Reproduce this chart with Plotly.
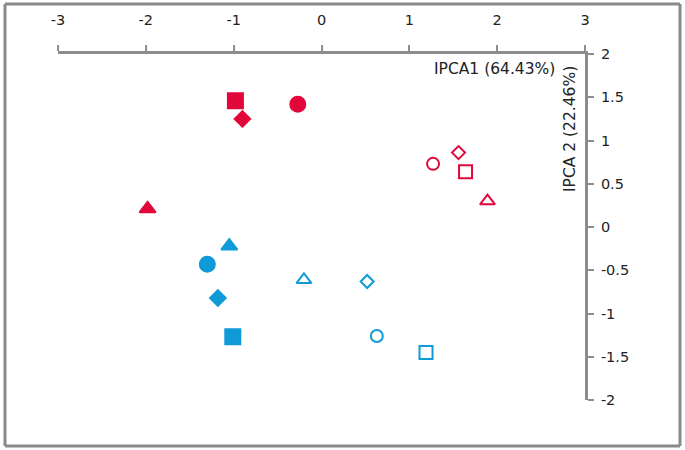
import plotly.graph_objects as go

# data
red_filled_x = [-0.98, -0.27, -0.90, -1.98]
red_filled_y = [1.46, 1.42, 1.25, 0.21]
red_open_x = [1.64, 1.27, 1.56, 1.89]
red_open_y = [0.64, 0.73, 0.86, 0.30]
blue_filled_x = [-1.01, -1.30, -1.18, -1.05]
blue_filled_y = [-1.27, -0.43, -0.82, -0.22]
blue_open_x = [1.19, 0.63, 0.52, -0.20]
blue_open_y = [-1.45, -1.26, -0.63, -0.61]

filled_symbols = ["square", "circle", "diamond", "triangle-up"]
filled_sizes = [15, 15, 12, 14]
open_symbols = ["square-open", "circle-open", "diamond-open", "triangle-up-open"]
open_sizes = [13, 12, 10, 13]

x_ticks = [-3, -2, -1, 0, 1, 2, 3]
x_ticktext = ["-3", "-2", "-1", "0", "1", "2", "3"]
y_ticks = [-2, -1.5, -1, -0.5, 0, 0.5, 1, 1.5, 2]
y_ticktext = ["-2", "-1.5", "-1", "-0.5", "0", "0.5", "1", "1.5", "2"]

RED = "#E2073B"
BLUE = "#0F9AD8"

fig = go.Figure()

def add(xs, ys, color, symbols, sizes):
    fig.add_trace(go.Scatter(
        x=xs, y=ys, mode="markers",
        marker=dict(symbol=symbols, size=sizes, color=color, opacity=1,
                    line=dict(width=2, color=color)),
        showlegend=False, hoverinfo="x+y"))

add(red_filled_x, red_filled_y, RED, filled_symbols, filled_sizes)
add(red_open_x, red_open_y, RED, open_symbols, open_sizes)
add(blue_filled_x, blue_filled_y, BLUE, filled_symbols, filled_sizes)
add(blue_open_x, blue_open_y, BLUE, open_symbols, open_sizes)

W, H = 685, 450
L, R, T, B = 58, 100, 54, 50
pw, ph = W - L - R, H - T - B

def px_to_paper_x(px):
    return (px - L) / pw

def px_to_paper_y(py):
    return (H - B - py) / ph

AXIS = "#8c8c8c"
BORDER = "#8a8a8a"
TICKFONT = dict(family="DejaVu Sans, sans-serif", size=14.5, color="#222222")
TITLEFONT = dict(family="DejaVu Sans, sans-serif", size=15.5, color="#222222")

bx0, bx1 = px_to_paper_x(5), px_to_paper_x(680)
by0, by1 = px_to_paper_y(446), px_to_paper_y(4)

fig.update_layout(
    template="none",
    width=W, height=H,
    margin=dict(l=L, r=R, t=T, b=B, autoexpand=False),
    paper_bgcolor="white", plot_bgcolor="white",
    font=TICKFONT,
    xaxis=dict(range=[-3, 3], side="top", tickvals=x_ticks, ticktext=x_ticktext,
               showgrid=False, zeroline=False, showline=True, automargin=False,
               linecolor=AXIS, linewidth=3, ticks="outside",
               ticklen=6, tickwidth=2, tickcolor=AXIS,
               ticklabelstandoff=14, tickfont=TICKFONT),
    yaxis=dict(range=[-2, 2], side="right", tickvals=y_ticks, ticktext=y_ticktext,
               showgrid=False, zeroline=False, showline=True, automargin=False,
               linecolor=AXIS, linewidth=3, ticks="outside",
               ticklen=6, tickwidth=2, tickcolor=AXIS,
               ticklabelstandoff=4, tickfont=TICKFONT),
    annotations=[
        dict(text="IPCA1 (64.43%)", xref="paper", yref="paper",
             x=px_to_paper_x(557), y=px_to_paper_y(69),
             xanchor="right", yanchor="middle", showarrow=False, font=TITLEFONT),
        dict(text="IPCA 2 (22.46%)", xref="paper", yref="paper",
             x=px_to_paper_x(570), y=px_to_paper_y(129),
             xanchor="center", yanchor="middle", textangle=-90,
             showarrow=False, font=TITLEFONT),
    ],
    shapes=[
        dict(type="line", xref="paper", yref="paper",
             x0=bx0, x1=bx1, y0=by1, y1=by1,
             line=dict(color=BORDER, width=3), layer="above"),
        dict(type="line", xref="paper", yref="paper",
             x0=bx0, x1=bx1, y0=by0, y1=by0,
             line=dict(color=BORDER, width=3), layer="above"),
        dict(type="line", xref="paper", yref="paper",
             x0=bx0, x1=bx0, y0=by0, y1=by1,
             line=dict(color=BORDER, width=3), layer="above"),
        dict(type="line", xref="paper", yref="paper",
             x0=bx1, x1=bx1, y0=by0, y1=by1,
             line=dict(color=BORDER, width=3), layer="above"),
    ],
)

fig.write_html("out.html",
               config={"displayModeBar": False},
               post_script="document.body.style.margin='0';document.body.style.padding='0';")
